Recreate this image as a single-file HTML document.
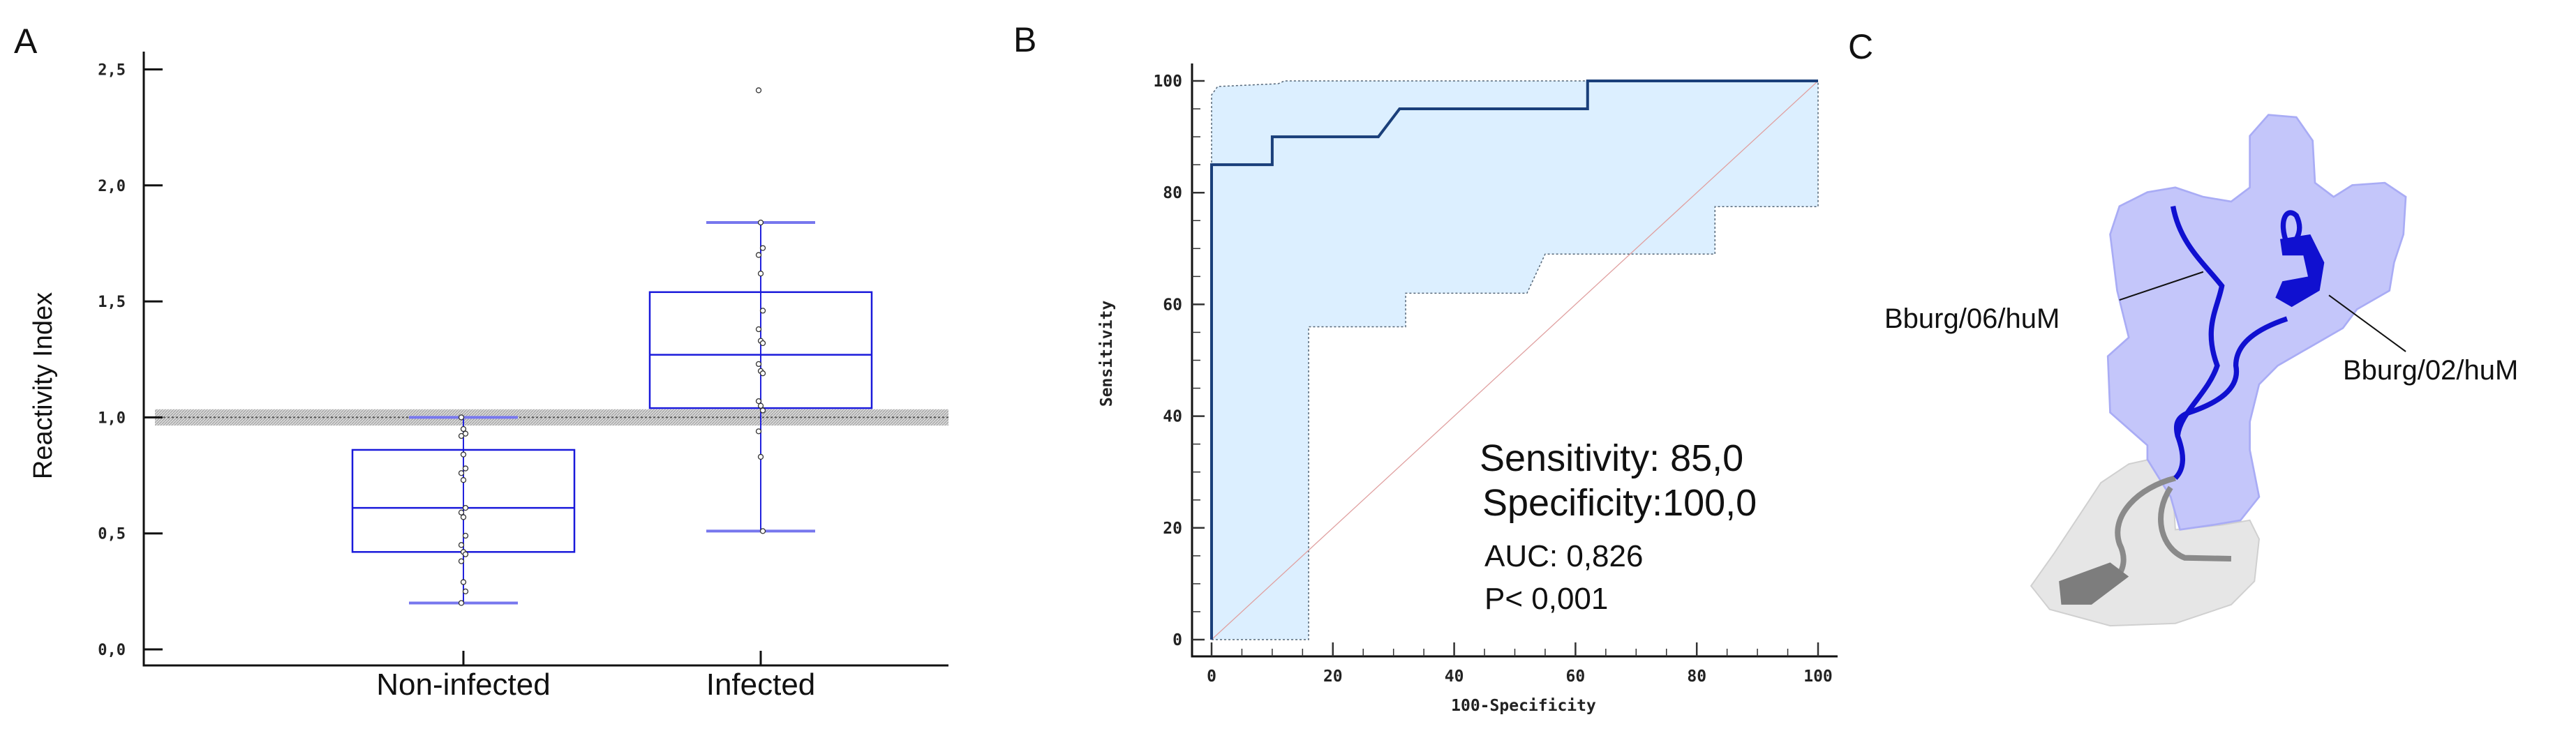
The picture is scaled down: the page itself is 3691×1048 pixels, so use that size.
<!DOCTYPE html>
<html><head><meta charset="utf-8"><style>
html,body{margin:0;padding:0;background:#fff;}
svg{display:block;}
.mono{font-family:"DejaVu Sans Mono","Liberation Mono",monospace;font-weight:bold;}
.sans{font-family:"Liberation Sans","DejaVu Sans",sans-serif;}
</style></head><body>
<svg id="fig" width="3691" height="1048" viewBox="0 0 3691 1048" xmlns="http://www.w3.org/2000/svg">
<defs>
<pattern id="hatch" width="4" height="4" patternUnits="userSpaceOnUse"><rect width="4" height="4" fill="#d8d8d8"/><path d="M0 4L4 0" stroke="#9a9a9a" stroke-width="1"/></pattern>
</defs>
<text x="20" y="76" class="sans" font-size="50" fill="#111">A</text>
<text x="1452" y="74" class="sans" font-size="50" fill="#111">B</text>
<text x="2648" y="84" class="sans" font-size="50" fill="#111">C</text>
<g id="boxplot"></g>
<g id="roc"></g>
<g id="structure" transform="translate(2650,0) scale(0.667,0.672)">
  <path fill="#e6e6e6" stroke="#d0d0d0" stroke-width="3" d="M600,990 L690,970 L700,1130 L800,1120 L860,1110 L880,1150 L870,1240 L820,1290 L700,1330 L560,1335 L430,1300 L390,1250 L440,1180 L480,1120 L540,1030 Z"/>
  <path fill="#c4c6fa" stroke="#a9acf5" stroke-width="4" d="M640,950 L560,880 L555,760 L600,720 L575,620 L560,500 L580,440 L640,410 L700,400 L760,420 L820,430 L860,400 L860,290 L900,245 L960,250 L995,300 L1000,390 L1040,420 L1080,395 L1150,390 L1195,420 L1190,500 L1170,560 L1160,620 L1090,660 L1060,700 L990,740 L920,780 L880,820 L860,900 L860,960 L880,1060 L840,1110 L780,1120 L710,1130 L690,1060 L640,980 Z"/>
  <path fill="none" stroke="#8a8a8a" stroke-width="12" d="M700,1020 C620,1040 560,1100 580,1160 C610,1220 560,1270 470,1260"/>
  <path fill="none" stroke="#8a8a8a" stroke-width="12" d="M690,1040 C650,1100 670,1170 720,1190 L820,1192"/>
  <path fill="#7d7d7d" d="M450,1240 L560,1200 L600,1230 L520,1290 L455,1290 Z"/>
  <path fill="none" stroke="#1010d0" stroke-width="11" d="M695,440 C710,520 760,560 800,610 C790,660 760,700 790,780 C770,840 710,880 705,930 C720,970 720,1000 700,1020"/>
  <path fill="none" stroke="#1010d0" stroke-width="11" d="M940,520 C920,470 940,440 960,460 C980,500 950,520 940,540 M940,680 C880,700 830,730 830,780 C840,830 790,860 730,880 C700,890 700,910 705,930"/>
  <path fill="#1010d0" d="M925,510 L990,500 L1020,560 L1010,620 L950,655 L915,635 L930,600 L985,590 L975,545 L930,545 Z"/>
  <line x1="580" y1="640" x2="760" y2="580" stroke="#111" stroke-width="3"/>
  <line x1="1030" y1="630" x2="1195" y2="750" stroke="#111" stroke-width="3"/>
</g>
<text x="2700" y="470" class="sans" font-size="40" fill="#111">Bburg/06/huM</text>
<text x="3357" y="544" class="sans" font-size="40" fill="#111">Bburg/02/huM</text>
</svg>
<script>
// ---- Panel A data ----
const categories = ["Non-infected", "Infected"];
const boxQ1 = [0.42, 1.04];
const boxMedian = [0.61, 1.27];
const boxQ3 = [0.86, 1.54];
const whiskerLow = [0.20, 0.51];
const whiskerHigh = [1.00, 1.84];
const pointsNonInfected = [1.0,0.95,0.93,0.92,0.84,0.78,0.76,0.73,0.61,0.59,0.57,0.49,0.45,0.42,0.41,0.38,0.29,0.25,0.2];
const pointsInfected = [2.41,1.84,1.73,1.70,1.62,1.46,1.38,1.33,1.32,1.23,1.20,1.19,1.07,1.05,1.03,0.94,0.83,0.51];
const yTicksA = [0,0.5,1.0,1.5,2.0,2.5];
const yTickLabelsA = ["0,0","0,5","1,0","1,5","2,0","2,5"];
const cutoff = [1.0];
// ---- Panel B data ----
const rocX = [0,0,10,10,27.5,31,62,62,100];
const rocY = [0,85,85,90,90,95,95,100,100];
const ciUpperX = [0,0,1,11,12,100];
const ciUpperY = [0,97.5,99,99.5,100,100];
const ciLowerX = [0,16,16,32,32,52,55,83,83,100,100];
const ciLowerY = [0,0,56,56,62,62,69,69,77.5,77.5,100];
const ticksB = [0,20,40,60,80,100];
const tickLabelsB = ["0","20","40","60","80","100"];

const NS = "http://www.w3.org/2000/svg";
function mk(parent, tag, attrs){const e=document.createElementNS(NS,tag);for(const k in attrs)e.setAttribute(k,attrs[k]);parent.appendChild(e);return e;}

// Panel A
const gA = document.getElementById('boxplot');
const yA = v => 931 - 332.6*v;
const xA = i => [664,1090][i];
const boxHalf = 159, capHalf = 78;
let band = mk(gA,'rect',{x:222,y:yA(cutoff[0]+0.035),width:1137,height:yA(cutoff[0]-0.035)-yA(cutoff[0]+0.035),fill:'url(#hatch)'});


let cl = mk(gA,'line',{x1:222,x2:1359,y1:yA(cutoff[0]),y2:yA(cutoff[0]),stroke:'#555','stroke-width':2,'stroke-dasharray':'3 3'});


let ax = mk(gA,'path',{d:'M206,74 L206,954 L1359,954',fill:'none',stroke:'#111','stroke-width':3});


yTicksA.forEach((v,i)=>{
  const t = mk(gA,'line',{x1:206,x2:233,y1:yA(v),y2:yA(v),stroke:'#111','stroke-width':3});
  
  
  const l = mk(gA,'text',{x:180,y:yA(v)+8,'text-anchor':'end','font-size':22,class:'mono',fill:'#222'});
  l.textContent = yTickLabelsA[i];
  
  
});
const yt = mk(gA,'text',{x:0,y:0,transform:'translate(74,553) rotate(-90)','text-anchor':'middle','font-size':38,class:'sans',fill:'#111'});
yt.textContent='Reactivity Index';


const pts = [pointsNonInfected, pointsInfected];
categories.forEach((c,i)=>{
  const x = xA(i);
  const ct = mk(gA,'line',{x1:x,x2:x,y1:933,y2:953,stroke:'#111','stroke-width':3});
  
  
  const cl2 = mk(gA,'text',{x:x,y:996,'text-anchor':'middle','font-size':44,class:'sans',fill:'#111'});
  cl2.textContent=c;
  
  
  const w = mk(gA,'line',{x1:x,x2:x,y1:yA(whiskerLow[i]),y2:yA(whiskerHigh[i]),stroke:'#2222dd','stroke-width':2});
  
  
  [whiskerLow[i],whiskerHigh[i]].forEach(v=>{
    const cp = mk(gA,'line',{x1:x-capHalf,x2:x+capHalf,y1:yA(v),y2:yA(v),stroke:'#7777ee','stroke-width':4});
    
    
  });
  const b = mk(gA,'rect',{x:x-boxHalf,y:yA(boxQ3[i]),width:2*boxHalf,height:yA(boxQ1[i])-yA(boxQ3[i]),fill:'none',stroke:'#1a1adb','stroke-width':2.5});
  
  
  const m = mk(gA,'line',{x1:x-boxHalf,x2:x+boxHalf,y1:yA(boxMedian[i]),y2:yA(boxMedian[i]),stroke:'#1a1adb','stroke-width':2.5});
  
  
  pts[i].forEach((v,j)=>{
    const p = mk(gA,'circle',{cx:x+((j%3)-1)*3,cy:yA(v),r:3.5,fill:'#fff',stroke:'#333','stroke-width':1.3});
    
    
  });
});

// Panel B
const gB = document.getElementById('roc');
const xB = v => 1736 + 8.69*v;
const yB = v => 917 - 8.01*v;
let poly = '';
ciUpperX.forEach((v,i)=>{poly += (i?'L':'M')+xB(v)+','+yB(ciUpperY[i]);});
for(let i=ciLowerX.length-1;i>=0;i--){poly += 'L'+xB(ciLowerX[i])+','+yB(ciLowerY[i]);}
const ci = mk(gB,'path',{d:poly+'Z',fill:'#dcefff',stroke:'none'});


function linePath(xs,ys){return xs.map((v,i)=>(i?'L':'M')+xB(v)+','+yB(ys[i])).join('');}
const up = mk(gB,'path',{d:linePath(ciUpperX,ciUpperY),fill:'none',stroke:'#556677','stroke-width':1.5,'stroke-dasharray':'3 3'});


const lo = mk(gB,'path',{d:linePath(ciLowerX,ciLowerY),fill:'none',stroke:'#556677','stroke-width':1.5,'stroke-dasharray':'3 3'});


const diag = mk(gB,'line',{x1:xB(0),y1:yB(0),x2:xB(100),y2:yB(100),stroke:'#e0a0a0','stroke-width':1.3});


const roc = mk(gB,'path',{d:linePath(rocX,rocY),fill:'none',stroke:'#1a3f7a','stroke-width':4});


const axB = mk(gB,'path',{d:'M1708,91 L1708,941 L2633,941',fill:'none',stroke:'#111','stroke-width':3});


for(let v=0; v<=100; v+=5){
  const major = v%20===0;
  const ty = mk(gB,'line',{x1:1708,x2:major?1726:1720,y1:yB(v),y2:yB(v),stroke:'#333','stroke-width':major?2.5:1.5});
  
  
  const tx = mk(gB,'line',{x1:xB(v),x2:xB(v),y1:941,y2:major?921:930,stroke:'#333','stroke-width':major?2.5:1.5});
  
  
}
ticksB.forEach((v,i)=>{
  const l = mk(gB,'text',{x:1694,y:yB(v)+8,'text-anchor':'end','font-size':23,class:'mono',fill:'#222'});
  l.textContent = tickLabelsB[i];
  
  
  const l2 = mk(gB,'text',{x:xB(v),y:977,'text-anchor':'middle','font-size':23,class:'mono',fill:'#222'});
  l2.textContent = tickLabelsB[i];
  
  
});
const xtB = mk(gB,'text',{x:2183,y:1019,'text-anchor':'middle','font-size':23,class:'mono',fill:'#222'});
xtB.textContent='100-Specificity';


const ytB = mk(gB,'text',{x:0,y:0,transform:'translate(1593,507) rotate(-90)','text-anchor':'middle','font-size':23,class:'mono',fill:'#222'});
ytB.textContent='Sensitivity';


const stats = [["Sensitivity: 85,0",2120,675,54],["Specificity:100,0",2124,739,54],["AUC: 0,826",2127,812,44],["P< 0,001",2127,873,44]];
stats.forEach(s=>{
  const t = mk(gB,'text',{x:s[1],y:s[2],'font-size':s[3],class:'sans',fill:'#111'});
  t.textContent=s[0];
  
  
});
</script>
</body></html>
